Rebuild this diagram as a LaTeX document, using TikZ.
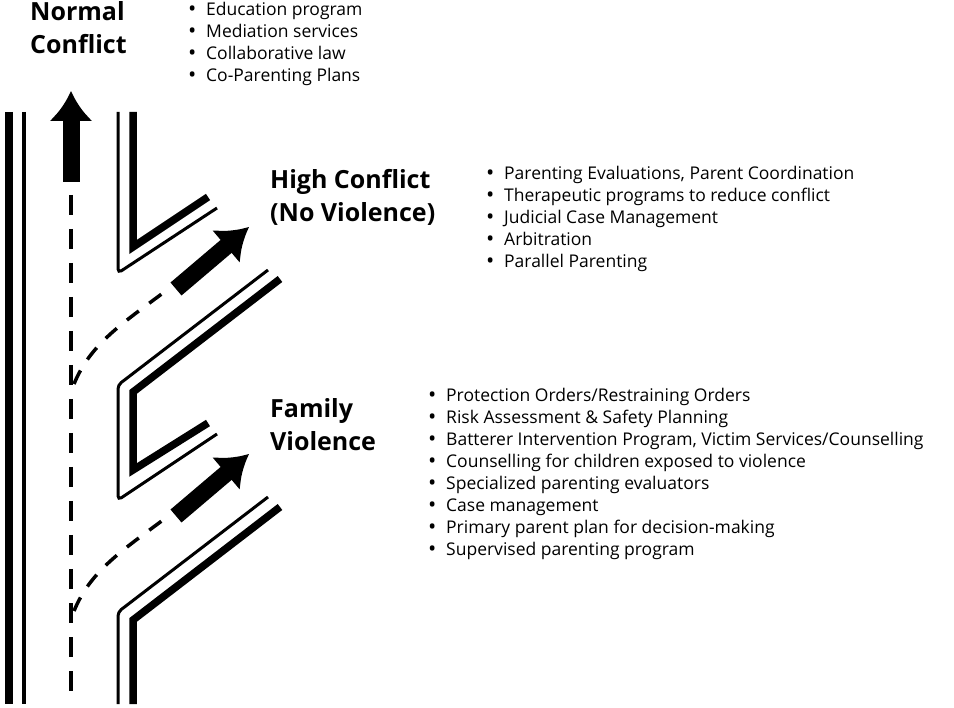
\documentclass[tikz,border=0pt]{standalone}
\usepackage{fontspec}
\setmainfont{Open Sans}
\usetikzlibrary{arrows.meta}
\newcommand{\bul}{\makebox[18pt][l]{\fontsize{22}{22}\selectfont\raisebox{-1pt}{•}}}
\begin{document}
\begin{tikzpicture}[x=1pt,y=-1pt,
  thick line/.style={line width=7.5pt},
  thin line/.style={line width=3pt,rounded corners=4pt},
  lane/.style={line width=3.5pt,dash pattern=on 20pt off 14pt},
  arr/.style={line width=17pt,-{Latex[length=30pt,width=44pt]}},
  title/.style={font=\fontsize{25}{33}\selectfont\bfseries,align=left,anchor=north west,inner sep=0pt},
  items/.style={font=\fontsize{17.5}{22}\selectfont,align=left,anchor=north west,inner sep=0pt}]
\useasboundingbox (0,0) rectangle (954,708);
% left border
\draw[thick line] (9,112) -- (9,704);
\draw[line width=3.5pt] (24,112) -- (24,704);
% center dashed lane
\draw[lane] (71,195) -- (71,704);
\draw[arr] (71,182) -- (71,91);
% right border segments
\coordinate (t1a) at (133,112); \coordinate (t1b) at (133,247); \coordinate (t1c) at (208,197);
\draw[thick line] (t1a) -- (t1b) -- (t1c);
\draw[thin line] (118,112) -- (118,273) -- (217,208);
\draw[thick line] (280,279) -- (133,392) -- (133,470) -- (208,423);
\draw[thin line] (268,270) -- (118,385) -- (118,500) -- (217,434);
\draw[thick line] (280,507) -- (133,620) -- (133,704);
\draw[thin line] (268,497) -- (118,612) -- (118,704);
% branch dashed curves and arrows
\foreach \dy in {0,227}{
  \draw[lane,dash pattern=on 15pt off 13pt] (74,384+\dy) .. controls (90,345+\dy) and (120,325+\dy) .. (163,293+\dy);
  \draw[arr] (176,289+\dy) -- (249,227+\dy);
}
% texts
\node[title] (n) at (30,1) {Normal\\Conflict};
\node[items] (l1) at (188,2) {\bul Education program\\\bul Mediation services\\\bul Collaborative law\\\bul Co-Parenting Plans};
\node[title] (h) at (270,169) {High Conflict\\(No Violence)};
\node[items] (l2) at (486,166) {\bul Parenting Evaluations, Parent Coordination\\\bul Therapeutic programs to reduce conflict\\\bul Judicial Case Management\\\bul Arbitration\\\bul Parallel Parenting};
\node[title] (f) at (270,398) {Family\\Violence};
\node[items] (l3) at (428,388) {\bul Protection Orders/Restraining Orders\\\bul Risk Assessment \& Safety Planning\\\bul Batterer Intervention Program, Victim Services/Counselling\\\bul Counselling for children exposed to violence\\\bul Specialized parenting evaluators\\\bul Case management\\\bul Primary parent plan for decision-making\\\bul Supervised parenting program};
\end{tikzpicture}
\end{document}
